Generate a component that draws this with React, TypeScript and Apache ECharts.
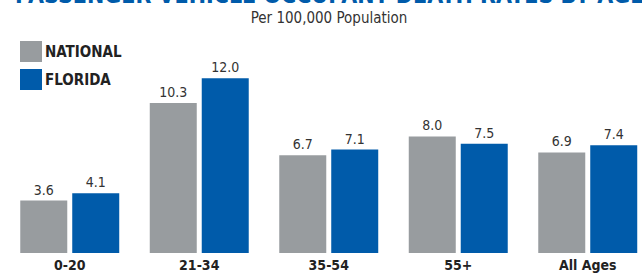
import React, { useEffect, useRef } from "react";
import * as echarts from "echarts";

const categories = ["0-20", "21-34", "35-54", "55+", "All Ages"];
const nationalValues = [3.6, 10.3, 6.7, 8.0, 6.9];
const floridaValues = [4.1, 12.0, 7.1, 7.5, 7.4];
const seriesNames = ["NATIONAL", "FLORIDA"];
const titleText = "PASSENGER VEHICLE OCCUPANT DEATH RATES BY AGE";
const subtitleText = "Per 100,000 Population";

const FONT = "'DejaVu Sans Condensed', 'Liberation Sans Narrow', sans-serif";
const GRAY = "#989c9f";
const BLUE = "#005baa";
const CW = 662;
const CH = 276;

export default function App() {
  const ref = useRef<HTMLDivElement>(null);
  useEffect(() => {
    if (!ref.current) return;
    document.documentElement.style.overflow = "hidden";
    document.body.style.overflow = "hidden";
    const chart = echarts.init(ref.current, null, { renderer: "svg" });
    const labelCfg = {
      show: true,
      position: "top" as const,
      distance: 4,
      color: "#333",
      fontFamily: FONT,
      fontSize: 14,
      formatter: (p: any) => Number(p.value).toFixed(1),
    };
    chart.setOption({
      animation: false,
      backgroundColor: "#fff",
      graphic: [
        {
          type: "text",
          x: 15,
          y: -5,
          style: {
            text: titleText,
            fontFamily: FONT,
            fontWeight: "bold",
            fontSize: 23,
            fill: BLUE,
            textAlign: "left",
            textVerticalAlign: "middle",
          },
        },
        {
          type: "text",
          x: 329,
          y: 18,
          style: {
            text: subtitleText,
            fontFamily: FONT,
            fontSize: 15,
            fill: "#333",
            textAlign: "center",
            textVerticalAlign: "middle",
          },
        },
      ],
      legend: {
        orient: "vertical",
        left: 15,
        top: 36,
        itemWidth: 22,
        itemHeight: 21,
        itemGap: 7,
        icon: "rect",
        data: seriesNames,
        textStyle: {
          fontFamily: FONT,
          fontWeight: "bold",
          fontSize: 15,
          color: "#222",
          padding: [0, 0, 0, -2],
        },
        selectedMode: false,
      },
      grid: { left: 5, right: CW - 5 - 647.5, top: 49, bottom: 23, containLabel: false },
      xAxis: {
        type: "category",
        data: categories,
        axisLine: { show: false },
        axisTick: { show: false },
        axisLabel: {
          fontFamily: FONT,
          fontWeight: "bold",
          fontSize: 14,
          color: "#222",
          margin: 5,
        },
      },
      yAxis: {
        type: "value",
        min: 0,
        max: 14,
        show: false,
        splitLine: { show: false },
      },
      series: [
        {
          name: seriesNames[0],
          type: "bar",
          data: nationalValues,
          barWidth: 47,
          barGap: "10.6%",
          itemStyle: { color: GRAY },
          label: labelCfg,
        },
        {
          name: seriesNames[1],
          type: "bar",
          data: floridaValues,
          barWidth: 47,
          barGap: "10.6%",
          itemStyle: { color: BLUE },
          label: labelCfg,
        },
      ],
    });
    return () => chart.dispose();
  }, []);
  return (
    <div
      ref={ref}
      style={{ position: "fixed", left: 0, top: 0, width: CW, height: CH }}
    />
  );
}
